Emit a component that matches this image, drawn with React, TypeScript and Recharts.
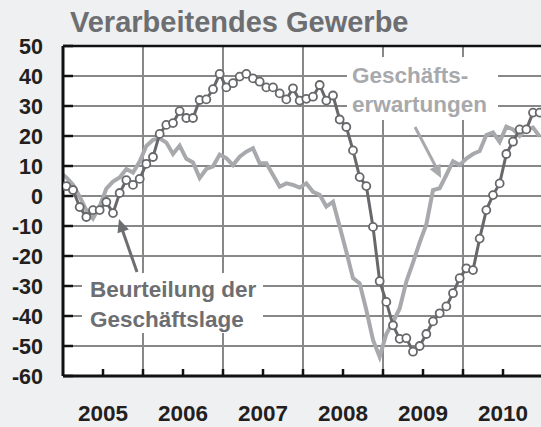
import { LineChart, Line, XAxis, YAxis, CartesianGrid, ReferenceLine } from 'recharts';

// monthly, Dec 2004 .. Dec 2010 (index 0 = Dec 2004)
const geschaeftslage: (number | null)[] = [
  null,
  3.3, 2, -3.7, -7, -4.7, -4.7, -2, -5.7, 1, 5.3, 3.7, 5.7,
  10.7, 13, 20.7, 23.7, 24.3, 28.3, 26, 26, 32, 32.2, 35.6, 40.7,
  36.2, 37.6, 39.8, 40.7, 39.2, 38.1, 36.2, 36.2, 34.2, 32.2, 35.9, 31.8,
  32.4, 33.1, 37, 31.8, 33.5, 25.5, 23, 15.2, 6.3, 3.3, -10.3, -28.4,
  -35.3, -43.1, -47.6, -47.4, -51.9, -50, -46, -41.8, -39.1, -36.8, -32.4, -27.4,
  -24.1, -24.7, -14.2, -4.7, 0.3, 4.2, 14, 18.1, 22.2, 22.2, 27.8, 27.8,
];

const geschaeftserwartungen: number[] = [
  8,
  6.2, 3.8, -0.2, -4.7, -7.5, -3.5, 2.5, 4.8, 6.2, 9, 7.8, 11.5,
  16.7, 18.7, 19.2, 17.8, 14, 16.8, 12.4, 11.2, 6, 9, 9.9, 13.8,
  12.6, 10.3, 13.1, 14.8, 15.9, 10.9, 10.9, 7, 3.1, 4.2, 3.7, 2.8,
  4.2, 1.4, 0.4, -3.5, -1.9, -10.2, -18.6, -27.4, -29.1, -38, -48, -53.6,
  -46, -42, -37.5, -28.5, -22.2, -15.5, -9.5, 2, 2.6, 7, 11.6, 10.3,
  12.5, 14, 15, 20.3, 21.2, 18, 23.1, 22.2, 20, 22.3, 22.8, 19.8,
];

const years = ['2005', '2006', '2007', '2008', '2009', '2010'];
const yTicks = [-60, -50, -40, -30, -20, -10, 0, 10, 20, 30, 40, 50];
const xTicks = [6, 12, 18, 24, 30, 36, 42, 48, 54, 60, 66];
const yearBoundaries = [12, 24, 36, 48, 60];

const data = geschaeftserwartungen.map((erw, i) => ({
  m: i - 0.5,
  lage: geschaeftslage[i],
  erw,
}));

const FONT = '"Liberation Sans", Arial, sans-serif';
const DARK = '#67686b';
const LIGHT = '#a7a9ac';

function arrowHead(tx: number, ty: number, fx: number, fy: number, len = 13, half = 6) {
  const dx = tx - fx;
  const dy = ty - fy;
  const l = Math.hypot(dx, dy);
  const ux = dx / l;
  const uy = dy / l;
  const bx = tx - ux * len;
  const by = ty - uy * len;
  return `${tx},${ty} ${bx - uy * half},${by + ux * half} ${bx + uy * half},${by - ux * half}`;
}

function Notes() {
  return (
    <g fontFamily={FONT} fontWeight="bold">
      <text x={70} y={31.5} fontSize={29} fill="#6d6e71">Verarbeitendes Gewerbe</text>

      <rect x={347} y={57} width={151} height={63} fill="#fff" />
      <text x={352} y={83} fontSize={22.5} fill={LIGHT}>Geschäfts-</text>
      <text x={352} y={111.5} fontSize={22.5} fill={LIGHT}>erwartungen</text>
      <line x1={415} y1={127} x2={437} y2={169} stroke={LIGHT} strokeWidth={3} />
      <polygon points={arrowHead(441, 178, 415, 127)} fill={LIGHT} />

      <rect x={82} y={273} width={181} height={60} fill="#fff" />
      <text x={90} y={297} fontSize={22.5} fill="#6d6e71">Beurteilung der</text>
      <text x={90} y={326.5} fontSize={22.5} fill="#6d6e71">Geschäftslage</text>
      <line x1={137} y1={272} x2={122} y2={229} stroke="#6d6e71" strokeWidth={3} />
      <polygon points={arrowHead(119, 219, 137, 272)} fill="#6d6e71" />
    </g>
  );
}

export default function App() {
  return (
    <div style={{ position: 'absolute', left: 0, top: 0, width: 541, height: 427, overflow: 'hidden', background: '#eff0f2' }}>
      <LineChart width={560} height={427} data={data} margin={{ top: 46, right: 17, bottom: 0, left: 0 }}>
        <CartesianGrid
          fill="#fff"
          stroke="#888888"
          strokeWidth={2}
          horizontalValues={yTicks}
          verticalValues={yearBoundaries}
        />
        <Notes />
        <XAxis
          type="number"
          dataKey="m"
          domain={[0, 72]}
          allowDataOverflow
          ticks={xTicks}
          interval={0}
          height={51}
          tickSize={-7}
          tickMargin={36}
          tickFormatter={(v: number) => (v % 12 === 6 ? years[(v - 6) / 12] : '')}
          axisLine={{ stroke: '#111', strokeWidth: 3 }}
          tickLine={{ stroke: '#111', strokeWidth: 2.5 }}
          tick={{ fontSize: 22.5, fontWeight: 'bold', fill: '#231f20', fontFamily: FONT }}
        />
        <YAxis
          type="number"
          domain={[-60, 50]}
          ticks={yTicks}
          interval={0}
          width={63}
          tickSize={-10}
          tickMargin={30}
          axisLine={{ stroke: '#111', strokeWidth: 3 }}
          tickLine={{ stroke: '#111', strokeWidth: 2.5 }}
          tick={{ fontSize: 21.5, fontWeight: 'bold', fill: '#231f20', fontFamily: FONT }}
        />
        <ReferenceLine y={50} stroke="#111" strokeWidth={2.5} />
        <Line
          dataKey="erw"
          stroke={LIGHT}
          strokeWidth={4}
          dot={false}
          isAnimationActive={false}
        />
        <Line
          dataKey="lage"
          stroke={DARK}
          strokeWidth={3}
          dot={{ r: 4, fill: '#fff', stroke: DARK, strokeWidth: 1.8 }}
          isAnimationActive={false}
        />
      </LineChart>
    </div>
  );
}
